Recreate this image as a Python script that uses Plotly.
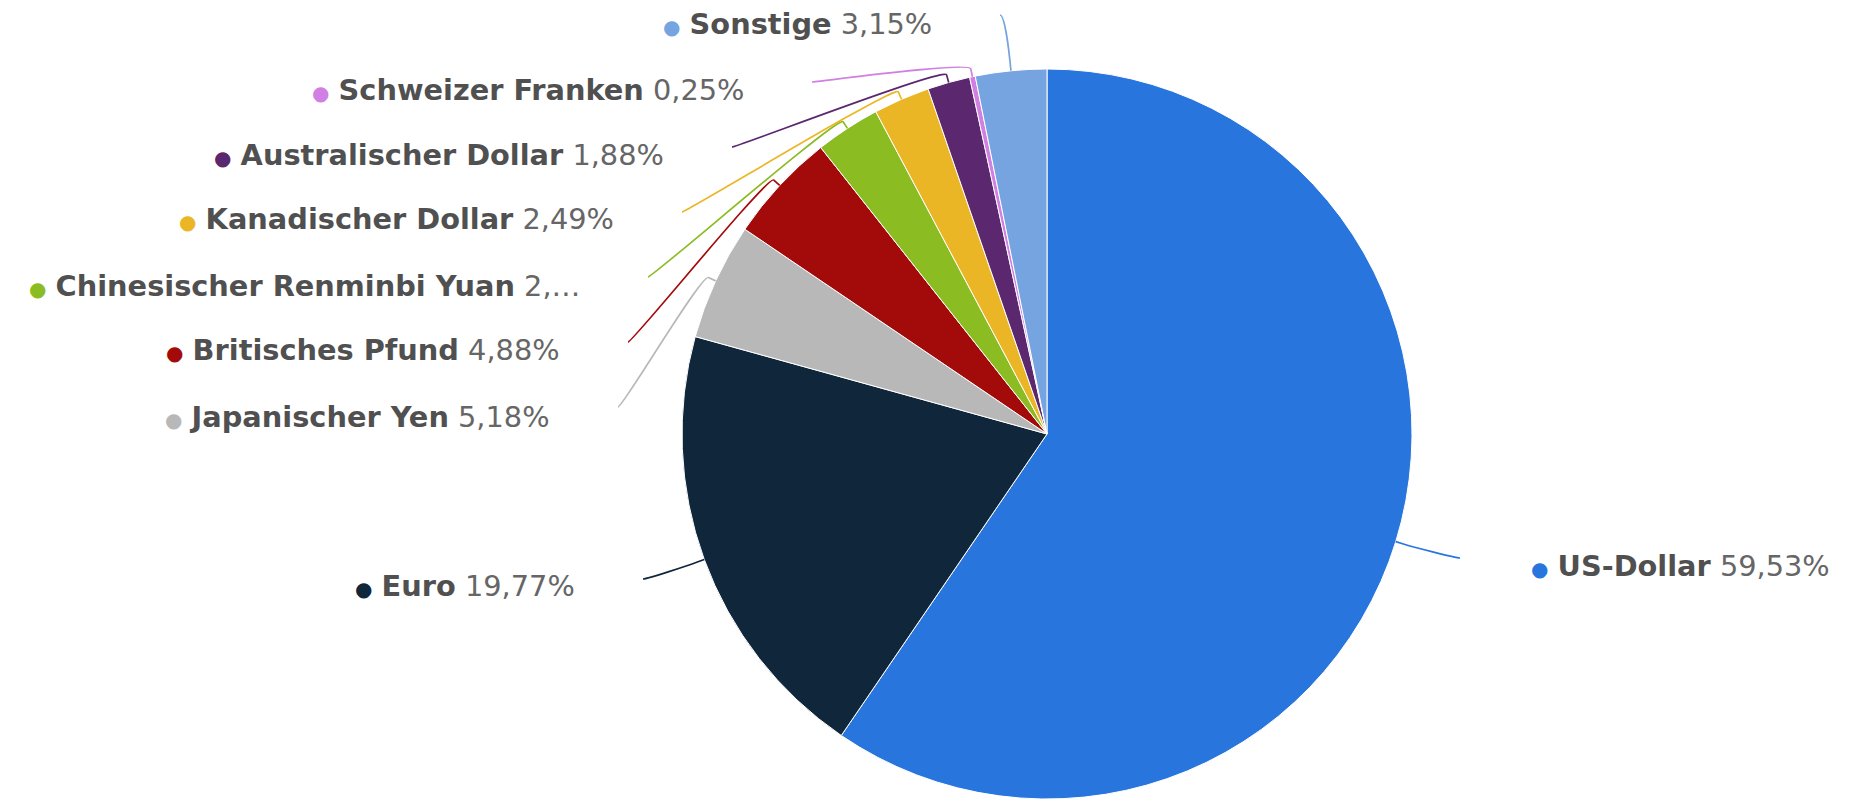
import math
import plotly.graph_objects as go

# ---------------- data ----------------
categories = [
    "US-Dollar", "Euro", "Japanischer Yen", "Britisches Pfund",
    "Chinesischer Renminbi Yuan", "Kanadischer Dollar",
    "Australischer Dollar", "Schweizer Franken", "Sonstige",
]
values = [59.53, 19.77, 5.18, 4.88, 2.87, 2.49, 1.88, 0.25, 3.15]
truncated = [False, False, False, False, True, False, False, False, False]
colors = [
    "#2876DD", "#10263B", "#B8B8B8", "#A30B0B", "#8BBC21",
    "#EBB626", "#5B276F", "#D17FE3", "#76A4E0",
]

# ---------------- layout constants (pixels) ----------------
W, H = 1850, 800
CX, CY, R = 1047, 434, 365
BREAK = 8
# connector end points next to each label
conn_end_x = [1460, 643, 618, 628, 648, 682, 732, 812, 1000]
conn_end_y = [558, 579, 407, 342, 277, 212, 147, 82, 15]
label_y = [566, 586, 417, 350, 286, 219, 155, 90, 24]
label_gap = 66


def px(x, y):
    return f"{x / W:.5f},{1 - y / H:.5f}"


def fmt(v, trunc):
    s = f"{v:.2f}".replace(".", ",")
    if trunc:
        return s[:2] + "…"
    return s + "%"


fig = go.Figure()
fig.add_trace(go.Pie(
    labels=categories,
    values=values,
    sort=False,
    direction="clockwise",
    rotation=0,
    marker=dict(colors=colors, line=dict(color="white", width=1)),
    textinfo="none",
    hoverinfo="label+percent",
    showlegend=False,
    domain=dict(x=[(CX - R) / W, (CX + R) / W], y=[1 - (CY + R) / H, 1 - (CY - R) / H]),
))

total = sum(values)
cum = 0.0
shapes = []
annotations = []
for i, (name, v) in enumerate(zip(categories, values)):
    mid = (cum + v / 2) / total * 2 * math.pi
    cum += v
    s, c = math.sin(mid), math.cos(mid)
    p0 = (CX + R * s, CY - R * c)
    b = (CX + (R + BREAK) * s, CY - (R + BREAK) * c)
    c2 = (2 * b[0] - p0[0], 2 * b[1] - p0[1])
    ex, ey = conn_end_x[i], conn_end_y[i]
    right_side = ex > CX
    c1 = (ex - 5 if right_side else ex + 5, ey)
    path = (f"M{px(ex, ey)} C{px(*c1)} {px(*c2)} {px(*b)} L{px(*p0)}")
    shapes.append(dict(type="path", path=path, xref="paper", yref="paper",
                       line=dict(color=colors[i], width=1.7)))

    text = (f'<span style="color:{colors[i]};font-size:20px">●</span> '
            f'<b>{name}</b> <span style="color:#666666">{fmt(v, truncated[i])}</span>')
    if right_side:
        ax, anchor = ex + label_gap + 3, "left"
    else:
        ax, anchor = ex - label_gap, "right"
    annotations.append(dict(
        x=ax / W, y=1 - label_y[i] / H, xref="paper", yref="paper",
        xanchor=anchor, yanchor="middle", showarrow=False, text=text,
        font=dict(family="DejaVu Sans", size=28.8, color="#505050"),
    ))

fig.update_layout(
    width=W, height=H,
    margin=dict(l=0, r=0, t=0, b=0),
    paper_bgcolor="white", plot_bgcolor="white",
    shapes=shapes, annotations=annotations,
)

fig.write_html("out.html", config={"displayModeBar": False},
               post_script="document.body.style.margin='0';")
